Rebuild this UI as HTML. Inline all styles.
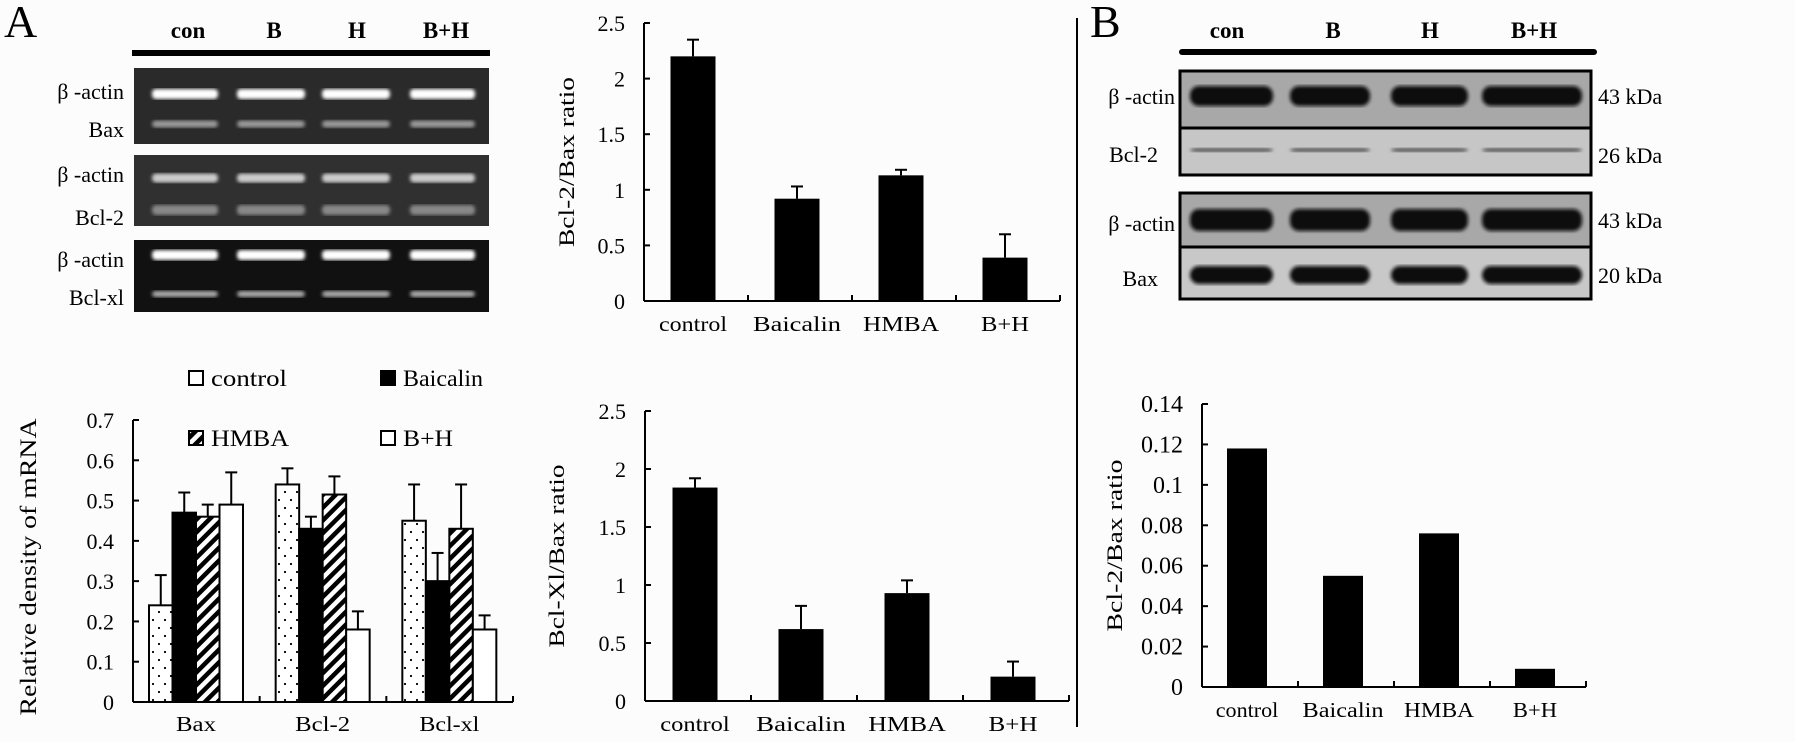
<!DOCTYPE html>
<html><head><meta charset="utf-8"><style>
html,body{margin:0;padding:0;background:#fcfcfc;}
svg{display:block;font-family:"Liberation Serif",serif;}
</style></head><body>
<svg id="fig" width="1795" height="742" viewBox="0 0 1795 742" xmlns="http://www.w3.org/2000/svg">
<defs>
<pattern id="dots" width="12" height="16" patternUnits="userSpaceOnUse"><rect width="12" height="16" fill="#fff"/><circle cx="3" cy="4" r="1.1" fill="#000"/><circle cx="9" cy="12" r="1.1" fill="#000"/></pattern>
<pattern id="hatch" width="9" height="9" patternUnits="userSpaceOnUse" patternTransform="rotate(45)"><rect width="9" height="9" fill="#fff"/><rect width="4.5" height="9" fill="#000"/></pattern>
<filter id="blur1"><feGaussianBlur stdDeviation="1.8"/></filter>
</defs>
<rect width="1795" height="742" fill="#fcfcfc"/>
<text x="4" y="37" font-size="46">A</text>
<text x="1090" y="37" font-size="46">B</text>
<line x1="1077" y1="18" x2="1077" y2="727" stroke="#000" stroke-width="2"/>
<g id="gelA"></g>
<g id="wb"></g>
<g id="c1"></g>
<g id="c2"></g>
<g id="c3"></g>
<g id="c4"></g>
</svg>
<script>
// ===== data =====
const laneLabels = ["con","B","H","B+H"];
const groupLabels = ["control","Baicalin","HMBA","B+H"];
const mrnaCategories = ["Bax","Bcl-2","Bcl-xl"];
const mrnaControl = [0.24,0.54,0.45];
const mrnaBaicalin = [0.47,0.43,0.30];
const mrnaHMBA = [0.46,0.515,0.43];
const mrnaBH = [0.49,0.18,0.18];
const mrnaControlErr = [0.075,0.04,0.09];
const mrnaBaicalinErr = [0.05,0.03,0.07];
const mrnaHMBAErr = [0.03,0.045,0.11];
const mrnaBHErr = [0.08,0.045,0.035];
const mrnaTicks = ["0","0.1","0.2","0.3","0.4","0.5","0.6","0.7"];
const bcl2BaxValues = [2.2,0.92,1.13,0.39];
const bcl2BaxErr = [0.15,0.11,0.05,0.21];
const bclxlBaxValues = [1.84,0.62,0.93,0.21];
const bclxlBaxErr = [0.08,0.2,0.11,0.13];
const ratioTicks = ["0","0.5","1","1.5","2","2.5"];
const proteinValues = [0.118,0.055,0.076,0.009];
const proteinTicks = ["0","0.02","0.04","0.06","0.08","0.1","0.12","0.14"];

const NS="http://www.w3.org/2000/svg";
function mk(parent,tag,attrs,txt){const e=document.createElementNS(NS,tag);for(const k in attrs)e.setAttribute(k,attrs[k]);if(txt!==undefined)e.textContent=txt;parent.appendChild(e);return e;}
const xLabLen={"control":68,"Baicalin":88,"HMBA":76,"B+H":48};

// ===== Gel A =====
(function(){
  const g=document.getElementById('gelA');
  const lx=[188,274,357,446];
  laneLabels.forEach((l,i)=>{const t=mk(g,'text',{x:lx[i],y:38,'font-size':23,'font-weight':'bold','text-anchor':'middle'},l);
    
    });
  mk(g,'rect',{x:132,y:50,width:358,height:6,fill:'#000'});
  const panels=[[68,144],[155,226],[240,312]];
  const bg=['#2a2a2a','#303030','#111'];
  panels.forEach((p,i)=>mk(g,'rect',{x:134,y:p[0],width:355,height:p[1]-p[0],fill:bg[i]}));
  const lanes=[[152,218],[237,305],[322,390],[410,475]];
  const bands=[[94,[1,1,1,1],10,'#fff'],[124,[0.2,0.55,0.55,0.5],7,'#999'],[178,[0.8,0.6,0.75,0.55],9,'#ccc'],[210,[0.45,0.2,0.35,0.25],10,'#888'],[255,[1,1,1,1],10,'#fff'],[294,[0.6,0.5,0.45,0.1],6,'#aaa']];
  bands.forEach(b=>lanes.forEach((ln,j)=>mk(g,'rect',{x:ln[0],y:b[0]-b[2]/2,width:ln[1]-ln[0],height:b[2],rx:4,fill:b[3],opacity:b[1],filter:'url(#blur1)'})));
  const labs=[["β -actin",99],["Bax",137],["β -actin",182],["Bcl-2",225],["β -actin",267],["Bcl-xl",305]];
  labs.forEach(l=>{const t=mk(g,'text',{x:124,y:l[1],'font-size':22,'text-anchor':'end'},l[0]);
    
    });
})();

// ===== Western blot B =====
(function(){
  const g=document.getElementById('wb');
  const lx=[1227,1333,1430,1534];
  laneLabels.forEach((l,i)=>{const t=mk(g,'text',{x:lx[i],y:38,'font-size':23,'font-weight':'bold','text-anchor':'middle'},l);
    
    });
  mk(g,'rect',{x:1179,y:49,width:418,height:6,rx:3,fill:'#000'});
  const rows=[[71,128,'#a8a8a8'],[128,175,'#c6c6c6'],[193,247,'#a8a8a8'],[247,299,'#c8c8c8']];
  rows.forEach(r=>mk(g,'rect',{x:1180,y:r[0],width:411,height:r[1]-r[0],fill:r[2],stroke:'#000','stroke-width':3}));
  const lanes=[[1190,1273],[1290,1370],[1391,1468],[1482,1582]];
  const bands=[[96,[1,1,1,1],20,'#0a0a0a'],[150,[0.35,0.25,0.35,0.08],4,'#555'],[220,[1,1,1,1],22,'#0a0a0a'],[275,[1,1,1,1],18,'#0a0a0a']];
  bands.forEach(b=>lanes.forEach((ln,j)=>mk(g,'rect',{x:ln[0],y:b[0]-b[2]/2,width:ln[1]-ln[0],height:b[2],rx:9,fill:b[3],opacity:b[1],filter:'url(#blur1)'})));
  const labs=[["β -actin",104],["Bcl-2",162],["β -actin",231],["Bax",286]];
  labs.forEach(l=>{const t=mk(g,'text',{x:l[0]==="β -actin"?1175:1158,y:l[1],'font-size':22,'text-anchor':'end'},l[0]);
    
    });
  const kd=[["43 kDa",104],["26 kDa",163],["43 kDa",228],["20 kDa",283]];
  kd.forEach(k=>{const t=mk(g,'text',{x:1598,y:k[1],'font-size':22},k[0]);
    
    });
})();

// ===== generic axes =====
function axes(g,x0,x1,y0,yTop,ticks,maxV,ngroups,fs){
  const y=v=>y0-(v/maxV)*(y0-yTop);
  mk(g,'line',{x1:x0,y1:yTop,x2:x0,y2:y0,stroke:'#000','stroke-width':2});
  mk(g,'line',{x1:x0,y1:y0,x2:x1,y2:y0,stroke:'#000','stroke-width':2});
  ticks.forEach(t=>{const v=parseFloat(t);const yy=y(v);
    mk(g,'line',{x1:x0,y1:yy,x2:x0+6,y2:yy,stroke:'#000','stroke-width':2});
    const tx=mk(g,'text',{x:x0-19,y:yy+8,'font-size':fs,'text-anchor':'end'},t);
    
    });
  const gw=(x1-x0)/ngroups;
  for(let i=1;i<=ngroups;i++)mk(g,'line',{x1:x0+gw*i,y1:y0,x2:x0+gw*i,y2:y0-6,stroke:'#000','stroke-width':2});
  return {y,gw};
}
function errbar(g,cx,yTop,yErr){
  mk(g,'line',{x1:cx,y1:yTop,x2:cx,y2:yErr,stroke:'#000','stroke-width':2});
  mk(g,'line',{x1:cx-6,y1:yErr,x2:cx+6,y2:yErr,stroke:'#000','stroke-width':2});
}
function ratioChart(id,x0,x1,y0,yTop,vals,errs,ticks,maxV,barW,title,titleX,titleLen,fs,lenScale){
  const g=document.getElementById(id);
  const ax=axes(g,x0,x1,y0,yTop,ticks,maxV,vals.length,fs);
  vals.forEach((v,i)=>{const cx=x0+ax.gw*(i+0.5)-3;
    if(errs)errbar(g,cx,ax.y(v),ax.y(v+errs[i]));
    const r=mk(g,'rect',{x:cx-barW/2,y:ax.y(v),width:barW,height:y0-ax.y(v),fill:'#000'});
    
    
    const t=mk(g,'text',{x:cx,y:y0+30,'font-size':21,'text-anchor':'middle',textLength:xLabLen[groupLabels[i]]*lenScale,lengthAdjust:'spacingAndGlyphs'},groupLabels[i]);
    
    });
  const ty=(y0+yTop)/2;
  const t=mk(g,'text',{x:titleX,y:ty,'font-size':22,'text-anchor':'middle',textLength:titleLen,lengthAdjust:'spacingAndGlyphs',transform:`rotate(-90 ${titleX} ${ty})`},title);
  
  
}
ratioChart('c2',644,1060,301,23,bcl2BaxValues,bcl2BaxErr,ratioTicks,2.5,45,'Bcl-2/Bax ratio',574,170,22,1);
ratioChart('c3',645,1069,701,411,bclxlBaxValues,bclxlBaxErr,ratioTicks,2.5,45,'Bcl-Xl/Bax ratio',564,183,22,1.02);
ratioChart('c4',1202,1586,687,404,proteinValues,null,proteinTicks,0.14,40,'Bcl-2/Bax ratio',1122,172,24,0.92);

// ===== mRNA grouped chart =====
(function(){
  const g=document.getElementById('c1');
  const x0=133,x1=513,y0=702,yTop=420;
  const ax=axes(g,x0,x1,y0,yTop,mrnaTicks,0.7,3,22);
  const series=[[mrnaControl,mrnaControlErr,'url(#dots)','control'],[mrnaBaicalin,mrnaBaicalinErr,'#000','baicalin'],[mrnaHMBA,mrnaHMBAErr,'url(#hatch)','hmba'],[mrnaBH,mrnaBHErr,'#fff','bh']];
  const bw=23.5;
  const catLen=[40,55,60];
  mrnaCategories.forEach((c,ci)=>{
    const gx=x0+ax.gw*ci+16;
    series.forEach((s,si)=>{
      const v=s[0][ci];const bx=gx+bw*si;
      errbar(g,bx+bw/2,ax.y(v),ax.y(v+s[1][ci]));
      const r=mk(g,'rect',{x:bx,y:ax.y(v),width:bw,height:y0-ax.y(v),fill:s[2],stroke:'#000','stroke-width':2});
      
      
    });
    const t=mk(g,'text',{x:gx+47,y:y0+29,'font-size':21,'text-anchor':'middle',textLength:catLen[ci],lengthAdjust:'spacingAndGlyphs'},c);
    
    
  });
  const ty=567;
  const t=mk(g,'text',{x:36,y:ty,'font-size':23,'text-anchor':'middle',textLength:297,lengthAdjust:'spacingAndGlyphs',transform:`rotate(-90 36 ${ty})`},'Relative density of mRNA');
  
  
  const leg=[[189,378,'#fff','control',76],[381,378,'#000','Baicalin',80],[189,438,'url(#hatch)','HMBA',78],[381,438,'#fff','B+H',50]];
  leg.forEach(l=>{
    const e=mk(g,'g',{});
    
    
    mk(e,'rect',{x:l[0],y:l[1]-7,width:14,height:14,fill:l[2],stroke:'#000','stroke-width':2});
    mk(e,'text',{x:l[0]+22,y:l[1]+8,'font-size':23,textLength:l[4],lengthAdjust:'spacingAndGlyphs'},l[3]);
  });
})();
</script>
</body></html>
